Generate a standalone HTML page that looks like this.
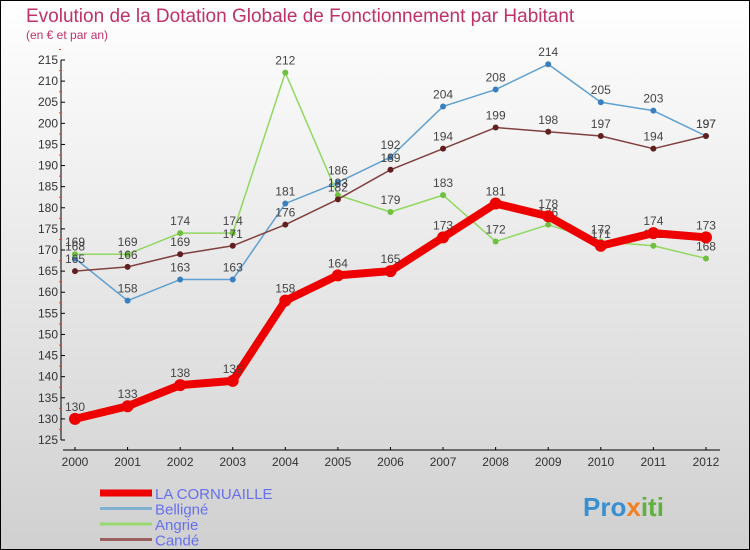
<!DOCTYPE html>
<html><head><meta charset="utf-8"><style>
body{margin:0;width:750px;height:550px;overflow:hidden}
svg{display:block;font-family:"Liberation Sans",sans-serif}
</style></head><body>
<svg id="c" width="750" height="550">
<defs><linearGradient id="bg" x1="0" y1="0" x2="0" y2="1"><stop offset="0" stop-color="#ffffff"/><stop offset="1" stop-color="#d0d0d0"/></linearGradient></defs>
<rect x="0.5" y="0.5" width="749" height="549" fill="url(#bg)" stroke="#000"/>
<text x="26" y="22" font-size="19" fill="#c0306a">Evolution de la Dotation Globale de Fonctionnement par Habitant</text>
<text x="26" y="39" font-size="12" fill="#c0306a">(en € et par an)</text>
<g id="axes"></g><g id="series"></g><g id="legend"></g>
<text x="583" y="516" font-size="26" font-weight="bold" fill="#3a8fd0">Pro<tspan fill="#f08020">x</tspan><tspan fill="#60b040">iti</tspan></text>
</svg>
<script>
const years=["2000","2001","2002","2003","2004","2005","2006","2007","2008","2009","2010","2011","2012"];
const yTicks=[125,130,135,140,145,150,155,160,165,170,175,180,185,190,195,200,205,210,215];
const cornuaille=[130,133,138,139,158,164,165,173,181,178,171,174,173];
const belligne=[168,158,163,163,181,186,192,204,208,214,205,203,197];
const angrie=[169,169,174,174,212,183,179,183,172,176,172,171,168];
const cande=[165,166,169,171,176,182,189,194,199,198,197,194,197];
const seriesNames=["LA CORNUAILLE","Belligné","Angrie","Candé"];
const NS="http://www.w3.org/2000/svg";
const X=i=>75+i*52.58, Y=v=>440-(v-125)*(380/90);
function mk(t,a,p){const e=document.createElementNS(NS,t);for(const k in a)e.setAttribute(k,a[k]);p.appendChild(e);return e;}
const ax=document.getElementById('axes');
let l=mk('line',{x1:61,y1:Y(215),x2:61,y2:Y(125),stroke:'#000'},ax);


yTicks.forEach(v=>{
  mk('line',{x1:61,x2:65,y1:Y(v),y2:Y(v),stroke:'#000'},ax);
  mk('line',{x1:59,x2:61,y1:Y(v)-10.5,y2:Y(v)-10.5,stroke:'#f33'},ax);
  const t=mk('text',{x:58,y:Y(v)+4,'font-size':12,'text-anchor':'end',fill:'#333'},ax);t.textContent=v;
  
  
});
l=mk('line',{x1:63,y1:450,x2:720,y2:450,stroke:'#000'},ax);


years.forEach((y,i)=>{
  mk('line',{x1:X(i),x2:X(i),y1:447,y2:450,stroke:'#000'},ax);
  const t=mk('text',{x:X(i),y:466,'font-size':12,'text-anchor':'middle',fill:'#333'},ax);t.textContent=y;
  
  
});
const sg=document.getElementById('series');
const defs=[[belligne,'#5fa0d0','#3a80c0',1.5,3,'belligne'],[angrie,'#90d860','#70c040',1.5,3,'angrie'],[cande,'#804040','#602020',1.5,3,'cande'],[cornuaille,'#ee0000','#ee0000',8,6,'la-cornuaille']];
defs.forEach(([d,c,mc,w,r,n])=>{
  const p=mk('polyline',{points:d.map((v,i)=>X(i)+','+Y(v)).join(' '),fill:'none',stroke:c,'stroke-width':w,'stroke-linejoin':'round'},sg);
  
  
  d.forEach((v,i)=>{
    const m=mk('circle',{cx:X(i),cy:Y(v),r:r,fill:mc},sg);
    
    
    const t=mk('text',{x:X(i),y:Y(v)-8,'font-size':12,'text-anchor':'middle',fill:'#444'},sg);t.textContent=v;
    
    
  });
});
const lg=document.getElementById('legend');
const lc=['#ee0000','#80b0d0','#98d870','#9a6060'],lw=[7,3,3,3];
seriesNames.forEach((n,i)=>{
  const y=493+i*15.5;
  const s=mk('line',{x1:100,x2:152,y1:y,y2:y,stroke:lc[i],'stroke-width':lw[i]},lg);
  
  
  const t=mk('text',{x:155,y:y+6,'font-size':15,fill:'#6670ee'},lg);t.textContent=n;
  
  
});
</script>
</body></html>
